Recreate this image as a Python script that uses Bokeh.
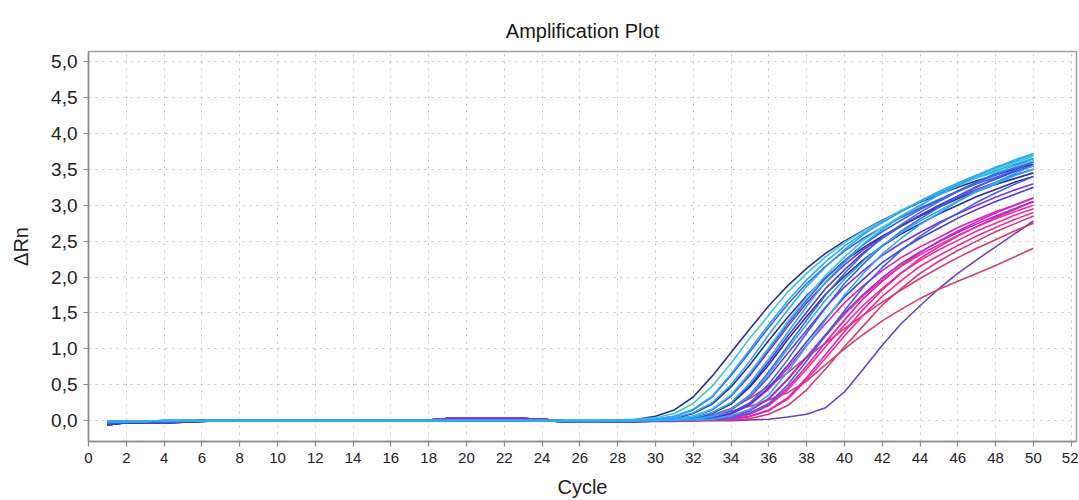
from bokeh.plotting import figure
from bokeh.embed import file_html
from bokeh.resources import INLINE
from bokeh.models import Range1d, FixedTicker, CustomJSTickFormatter

# ---------------- data ----------------
cycles = list(range(1, 51))

# baseline segments, cycles 1..26
baseline_navy = [-0.06, -0.03, -0.03, -0.03, -0.02, -0.01, 0, 0, 0, 0, 0, 0, 0, 0, 0, 0, 0, 0, 0, 0, 0, 0, 0, 0, -0.01, -0.02]
baseline_blue = [-0.03, -0.02, -0.02, -0.02, -0.01, 0, 0, 0, 0, 0, 0, 0, 0, 0, 0, 0, 0, 0, 0, 0, 0, 0, 0, 0, -0.01, -0.02]
baseline_pink = [-0.02, -0.01, -0.01, -0.01, -0.01, 0, 0, 0, 0, 0, 0, 0, 0, 0, 0, 0, 0, 0.01, 0.03, 0.03, 0.03, 0.03, 0.03, 0.02, 0, -0.02]
baseline_cyan = [-0.01, -0.01, -0.01, 0, 0, 0, 0, 0, 0, 0, 0, 0, 0, 0, 0, 0, 0, 0, 0, 0, 0, 0, 0, 0, 0, 0]

# amplification segments, cycles 27..50
rise_01 = [-0.02, -0.01, 0.02, 0.06, 0.15, 0.33, 0.62, 0.95, 1.28, 1.60, 1.88, 2.12, 2.33, 2.50, 2.65, 2.79, 2.92, 3.04, 3.15, 3.25, 3.34, 3.42, 3.50, 3.57]
rise_02 = [0, 0.01, 0.02, 0.04, 0.10, 0.24, 0.48, 0.80, 1.15, 1.47, 1.79, 2.05, 2.28, 2.48, 2.64, 2.78, 2.93, 3.05, 3.17, 3.27, 3.38, 3.46, 3.54, 3.62]
rise_03 = [0, 0.01, 0.01, 0.02, 0.06, 0.16, 0.34, 0.65, 0.99, 1.34, 1.67, 1.96, 2.21, 2.43, 2.61, 2.76, 2.91, 3.05, 3.17, 3.29, 3.39, 3.48, 3.57, 3.65]
rise_04 = [-0.02, -0.01, 0.01, 0.02, 0.06, 0.15, 0.33, 0.63, 0.96, 1.30, 1.62, 1.91, 2.15, 2.36, 2.54, 2.69, 2.83, 2.96, 3.08, 3.19, 3.30, 3.39, 3.47, 3.55]
rise_05 = [0, 0, 0.01, 0.02, 0.04, 0.11, 0.25, 0.50, 0.83, 1.20, 1.54, 1.87, 2.14, 2.38, 2.59, 2.76, 2.91, 3.06, 3.19, 3.31, 3.42, 3.53, 3.61, 3.70]
rise_06 = [-0.02, -0.01, 0.01, 0.02, 0.03, 0.10, 0.23, 0.47, 0.78, 1.12, 1.44, 1.74, 1.99, 2.22, 2.41, 2.57, 2.71, 2.85, 2.97, 3.09, 3.19, 3.29, 3.37, 3.45]
rise_07 = [-0.02, -0.01, 0.01, 0.01, 0.02, 0.06, 0.16, 0.35, 0.65, 1.00, 1.35, 1.68, 1.98, 2.23, 2.45, 2.63, 2.79, 2.94, 3.07, 3.20, 3.32, 3.42, 3.52, 3.60]
rise_08 = [0, 0, 0.01, 0.01, 0.02, 0.06, 0.16, 0.36, 0.67, 1.02, 1.38, 1.72, 2.02, 2.28, 2.51, 2.69, 2.85, 3.00, 3.14, 3.27, 3.39, 3.50, 3.59, 3.68]
rise_09 = [-0.02, -0.01, 0.01, 0.01, 0.02, 0.06, 0.15, 0.34, 0.63, 0.97, 1.31, 1.64, 1.92, 2.17, 2.38, 2.56, 2.71, 2.85, 2.99, 3.11, 3.22, 3.32, 3.42, 3.50]
rise_10 = [-0.02, -0.01, 0, 0.01, 0.02, 0.04, 0.11, 0.24, 0.49, 0.82, 1.18, 1.51, 1.84, 2.10, 2.34, 2.54, 2.71, 2.86, 3.00, 3.13, 3.26, 3.36, 3.47, 3.55]
rise_11 = [-0.02, -0.01, 0, 0.01, 0.02, 0.04, 0.10, 0.23, 0.47, 0.78, 1.13, 1.45, 1.76, 2.01, 2.24, 2.43, 2.60, 2.74, 2.88, 3.00, 3.12, 3.22, 3.32, 3.40]
rise_12 = [0, 0, 0, 0.01, 0.02, 0.04, 0.11, 0.25, 0.52, 0.86, 1.23, 1.59, 1.93, 2.20, 2.46, 2.66, 2.84, 2.99, 3.15, 3.28, 3.41, 3.52, 3.63, 3.72]
rise_13 = [-0.02, -0.01, 0, 0.01, 0.01, 0.02, 0.07, 0.16, 0.36, 0.68, 1.04, 1.40, 1.75, 2.05, 2.32, 2.55, 2.73, 2.90, 3.05, 3.19, 3.32, 3.44, 3.55, 3.65]
rise_14 = [-0.02, -0.01, 0, 0, 0.01, 0.02, 0.06, 0.15, 0.33, 0.61, 0.94, 1.26, 1.58, 1.86, 2.09, 2.30, 2.47, 2.62, 2.76, 2.88, 3.00, 3.11, 3.21, 3.30]
rise_15 = [0, 0, 0, 0.01, 0.01, 0.02, 0.06, 0.16, 0.35, 0.65, 1.00, 1.34, 1.68, 1.97, 2.22, 2.44, 2.62, 2.78, 2.92, 3.06, 3.19, 3.30, 3.41, 3.50]
rise_16 = [-0.02, -0.01, 0, 0, 0.01, 0.02, 0.04, 0.11, 0.25, 0.51, 0.85, 1.22, 1.57, 1.91, 2.18, 2.43, 2.64, 2.81, 2.97, 3.12, 3.25, 3.38, 3.49, 3.60]
rise_17 = [-0.02, -0.01, 0, 0, 0.01, 0.01, 0.03, 0.10, 0.23, 0.46, 0.77, 1.10, 1.42, 1.72, 1.97, 2.20, 2.38, 2.54, 2.68, 2.82, 2.94, 3.05, 3.15, 3.25]
rise_18 = [-0.02, -0.01, 0, 0, 0.01, 0.01, 0.03, 0.09, 0.22, 0.44, 0.73, 1.05, 1.35, 1.64, 1.88, 2.09, 2.27, 2.42, 2.55, 2.69, 2.80, 2.91, 3.00, 3.10]
rise_19 = [0, 0, 0, 0, 0.01, 0.01, 0.02, 0.07, 0.16, 0.36, 0.68, 1.04, 1.40, 1.75, 2.05, 2.32, 2.54, 2.73, 2.89, 3.05, 3.19, 3.32, 3.44, 3.55]
rise_20 = [-0.02, -0.01, 0, 0, 0, 0.01, 0.02, 0.06, 0.14, 0.31, 0.58, 0.89, 1.20, 1.50, 1.76, 1.99, 2.19, 2.35, 2.49, 2.62, 2.74, 2.85, 2.95, 3.05]
rise_21 = [-0.02, -0.01, 0, 0, 0, 0.01, 0.02, 0.06, 0.14, 0.30, 0.57, 0.88, 1.18, 1.48, 1.74, 1.96, 2.15, 2.31, 2.45, 2.58, 2.70, 2.81, 2.91, 3.00]
rise_22 = [-0.02, -0.01, 0, 0, 0, 0.01, 0.01, 0.03, 0.10, 0.22, 0.46, 0.76, 1.09, 1.40, 1.70, 1.94, 2.16, 2.34, 2.50, 2.64, 2.77, 2.89, 3.00, 3.10]
rise_23 = [-0.02, -0.01, 0, 0, 0, 0.01, 0.02, 0.04, 0.11, 0.24, 0.50, 0.83, 1.19, 1.53, 1.86, 2.13, 2.37, 2.57, 2.74, 2.89, 3.04, 3.17, 3.29, 3.40]
rise_24 = [-0.02, -0.01, 0, 0, 0, 0.01, 0.01, 0.03, 0.09, 0.21, 0.43, 0.72, 1.03, 1.33, 1.61, 1.84, 2.06, 2.23, 2.38, 2.51, 2.64, 2.75, 2.86, 2.95]
rise_25 = [-0.02, -0.01, 0, 0, 0, 0, 0.01, 0.02, 0.06, 0.15, 0.32, 0.60, 0.92, 1.24, 1.55, 1.82, 2.05, 2.26, 2.42, 2.57, 2.70, 2.83, 2.94, 3.05]
rise_26 = [-0.02, -0.01, 0, 0, 0, 0, 0.01, 0.02, 0.06, 0.14, 0.30, 0.57, 0.87, 1.18, 1.47, 1.73, 1.95, 2.15, 2.30, 2.44, 2.57, 2.69, 2.80, 2.90]
rise_27 = [-0.02, -0.01, 0, 0, 0, 0, 0.01, 0.01, 0.03, 0.09, 0.21, 0.43, 0.72, 1.03, 1.32, 1.61, 1.84, 2.05, 2.22, 2.37, 2.50, 2.63, 2.74, 2.85]
rise_28 = [-0.02, -0.01, 0, 0, 0.01, 0.03, 0.08, 0.17, 0.31, 0.48, 0.67, 0.88, 1.08, 1.28, 1.47, 1.65, 1.82, 1.98, 2.13, 2.27, 2.40, 2.52, 2.64, 2.75]
rise_29 = [-0.02, -0.01, 0, 0, 0.01, 0.03, 0.07, 0.13, 0.20, 0.29, 0.39, 0.55, 0.78, 1.00, 1.20, 1.39, 1.55, 1.70, 1.83, 1.94, 2.05, 2.16, 2.28, 2.40]
rise_30 = [-0.02, -0.02, -0.02, -0.01, -0.01, 0, 0, 0, 0.01, 0.02, 0.05, 0.09, 0.18, 0.40, 0.72, 1.05, 1.35, 1.60, 1.84, 2.05, 2.24, 2.42, 2.60, 2.78]

y_ticks = [0.0, 0.5, 1.0, 1.5, 2.0, 2.5, 3.0, 3.5, 4.0, 4.5, 5.0]
x_ticks = list(range(0, 54, 2))

# ---------------- styling ----------------
NAVY = "#2d2f96"
BLUE = "#3f63e6"
ROYAL = "#4a3fd6"
CYAN = "#2eaaf0"
TURQ = "#3cc8d8"
VIOLET = "#7a36dc"
PURPLE = "#a02fd2"
MAGENTA = "#e020c0"
PINK = "#f0308c"
CRIMSON = "#d63c72"
RED = "#cf4468"
LATE = "#6a44c0"

# (baseline, rise, colour) -- drawn in this order
series = [
    (baseline_pink, rise_30, LATE),
    (baseline_pink, rise_29, RED),
    (baseline_pink, rise_28, CRIMSON),
    (baseline_pink, rise_27, CRIMSON),
    (baseline_pink, rise_26, PINK),
    (baseline_pink, rise_25, MAGENTA),
    (baseline_pink, rise_24, PINK),
    (baseline_pink, rise_22, MAGENTA),
    (baseline_pink, rise_21, PINK),
    (baseline_pink, rise_20, PURPLE),
    (baseline_pink, rise_18, MAGENTA),
    (baseline_pink, rise_14, VIOLET),
    (baseline_pink, rise_09, VIOLET),
    (baseline_navy, rise_01, NAVY),
    (baseline_blue, rise_04, BLUE),
    (baseline_navy, rise_06, NAVY),
    (baseline_blue, rise_07, BLUE),
    (baseline_blue, rise_10, ROYAL),
    (baseline_navy, rise_11, NAVY),
    (baseline_blue, rise_13, BLUE),
    (baseline_blue, rise_16, BLUE),
    (baseline_navy, rise_17, ROYAL),
    (baseline_blue, rise_23, BLUE),
    (baseline_cyan, rise_02, TURQ),
    (baseline_cyan, rise_03, CYAN),
    (baseline_cyan, rise_05, CYAN),
    (baseline_cyan, rise_08, TURQ),
    (baseline_cyan, rise_12, CYAN),
    (baseline_cyan, rise_15, CYAN),
    (baseline_cyan, rise_19, CYAN),
]

FONT = "Liberation Sans"
AXIS_GRAY = "#8c8c8c"

p = figure(width=1078, height=500, output_backend="svg", toolbar_location=None,
           x_range=Range1d(0, 52.28), y_range=Range1d(-0.29, 5.14),
           min_border_left=88, min_border_right=2, min_border_top=51, min_border_bottom=59,
           title="Amplification Plot")

p.title.align = "center"
p.title.text_font = FONT
p.title.text_font_size = "20px"
p.title.text_font_style = "normal"
p.title.text_color = "#1a1a1a"
p.title.standoff = 20

p.outline_line_color = "#a0a0a0"
p.outline_line_width = 1.5
p.background_fill_color = "white"
p.border_fill_color = "white"

for b, r, c in series:
    p.line(cycles, b + r, line_color=c, line_width=1.6)

p.xaxis.ticker = FixedTicker(ticks=x_ticks)
p.yaxis.ticker = FixedTicker(ticks=y_ticks)
p.yaxis.formatter = CustomJSTickFormatter(code="return tick.toFixed(1).replace('.', ',');")

for ax in (p.xaxis[0], p.yaxis[0]):
    ax.axis_line_color = AXIS_GRAY
    ax.axis_line_width = 1.5
    ax.major_tick_line_color = AXIS_GRAY
    ax.major_tick_line_width = 1.2
    ax.major_tick_out = 5
    ax.major_tick_in = 0
    ax.minor_tick_line_color = None
    ax.major_label_text_color = "#222222"
    ax.axis_label_text_font = FONT
    ax.axis_label_text_font_style = "normal"
    ax.axis_label_text_font_size = "20px"
    ax.axis_label_text_color = "#222222"

p.xaxis.axis_label = "Cycle"
p.yaxis.axis_label = "ΔRn"
p.yaxis.major_label_text_font = FONT
p.yaxis.major_label_text_font_size = "19px"
p.yaxis.major_label_standoff = 6
p.yaxis.axis_label_standoff = 16
p.xaxis.major_label_text_font = FONT
p.xaxis.major_label_text_font_size = "15px"
p.xaxis.major_label_standoff = 6
p.xaxis.axis_label_standoff = 10

p.grid.grid_line_color = "#c4c4c4"
p.grid.grid_line_dash = "2 5"
p.grid.grid_line_width = 1

open("out.html", "w").write(file_html(p, INLINE))
